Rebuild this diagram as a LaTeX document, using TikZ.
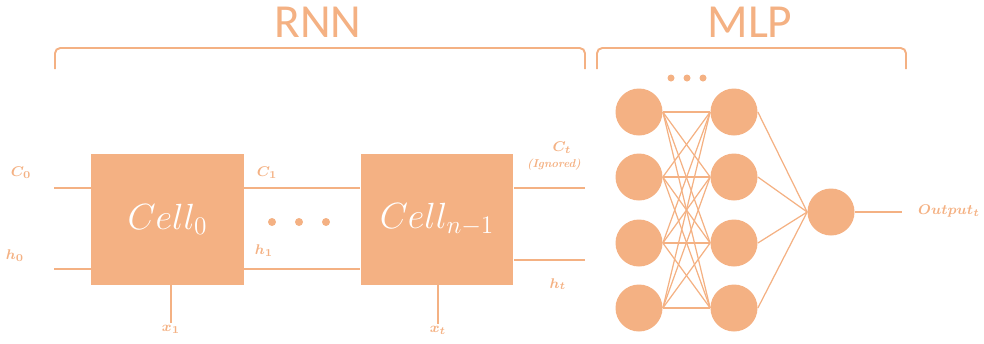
\documentclass[tikz,border=0pt]{standalone}
\usepackage{fontspec}
\usepackage{amsmath}
\usetikzlibrary{positioning, calc}
\newfontfamily\titlefont{Carlito}
\definecolor{peach}{HTML}{F4B183}

\begin{document}
\begin{tikzpicture}[
    x=0.02cm, y=-0.02cm,
    cell/.style={rectangle, fill=peach, minimum width=3.06cm, minimum height=2.62cm, inner sep=0pt, text=white, font=\fontsize{21}{24}\selectfont},
    neuron/.style={circle, fill=peach, minimum size=0.94cm, inner sep=0pt},
    wire/.style={draw=peach, line width=1pt},
    link/.style={draw=peach, line width=0.7pt},
    brace/.style={draw=peach, line width=1.1pt, rounded corners=3pt},
    title/.style={text=peach, font=\titlefont\fontsize{27}{30}\selectfont},
    lbl/.style={text=peach, font=\fontsize{8.5}{10}\selectfont\boldmath, inner sep=1pt}
]
    \useasboundingbox (0,0) rectangle (984,343);

    % titles and brackets
    \node[title] (rnn) at (318,22) {RNN};
    \node[title] (mlp) at (750,22) {MLP};
    \draw[brace] (55,69) -- (55,48) -- (585,48) -- (585,69);
    \draw[brace] (597,69) -- (597,48) -- (906,48) -- (906,69);

    % recurrent cells
    \node[cell] (cell0) at (167.5,219.5) {$Cell_0$};
    \node[cell] (celln) at (437,219.5) {$Cell_{n-1}$};
    \coordinate (yC) at (0,188);
    \coordinate (yh) at (0,269);
    \coordinate (yht) at (0,260);
    \coordinate (c0in) at (54,188);
    \coordinate (h0in) at (54,269);
    \coordinate (ctout) at (585,188);
    \coordinate (htout) at (585,260);

    \draw[wire] (c0in) -- (cell0.west |- yC);
    \draw[wire] (h0in) -- (cell0.west |- yh);
    \draw[wire] (cell0.east |- yC) -- (celln.west |- yC);
    \draw[wire] (cell0.east |- yh) -- (celln.west |- yh);
    \draw[wire] (celln.east |- yC) -- (ctout);
    \draw[wire] (celln.east |- yht) -- (htout);

    \node[lbl] (c0) at (21,173) {$C_0$};
    \node[lbl] (h0) at (15,256) {$h_0$};
    \node[lbl] (c1) at (267,173) {$C_1$};
    \node[lbl] (h1) at (264,251) {$h_1$};
    \node[lbl] (ct) at (562,148) {$C_t$};
    \node[lbl, font=\fontsize{6.5}{8}\selectfont\bfseries\itshape] (ign) at (554,165) {(Ignored)};
    \node[lbl] (ht) at (558,284) {$h_t$};

    \node[lbl] (x1) at (171,329) {$x_1$};
    \node[lbl] (xt) at (438,330) {$x_t$};
    \draw[wire] (cell0.south -| x1) -- (x1.north);
    \draw[wire] (celln.south -| xt) -- (xt.north);

    \foreach \x in {272,299,326}
        \fill[peach] (\x,222) circle (0.08cm);

    % mlp
    \foreach \y [count=\i] in {112,177,243,308} {
        \node[neuron] (a\i) at (639,\y) {};
        \node[neuron] (b\i) at (734,\y) {};
    }
    \node[neuron] (out) at (831,212) {};
    \foreach \i in {1,...,4}
        \foreach \j in {1,...,4}
            \draw[link] (a\i.east) -- (b\j.west);
    \foreach \j in {1,...,4}
        \draw[link] (b\j.east) -- (out.west);

    \foreach \x in {671,687,703}
        \fill[peach] (\x,78) circle (0.07cm);

    \node[lbl, anchor=west] (outlbl) at (916,211) {$Output_{t}$};
    \draw[link] (out.east) -- (902,212);
\end{tikzpicture}
\end{document}
